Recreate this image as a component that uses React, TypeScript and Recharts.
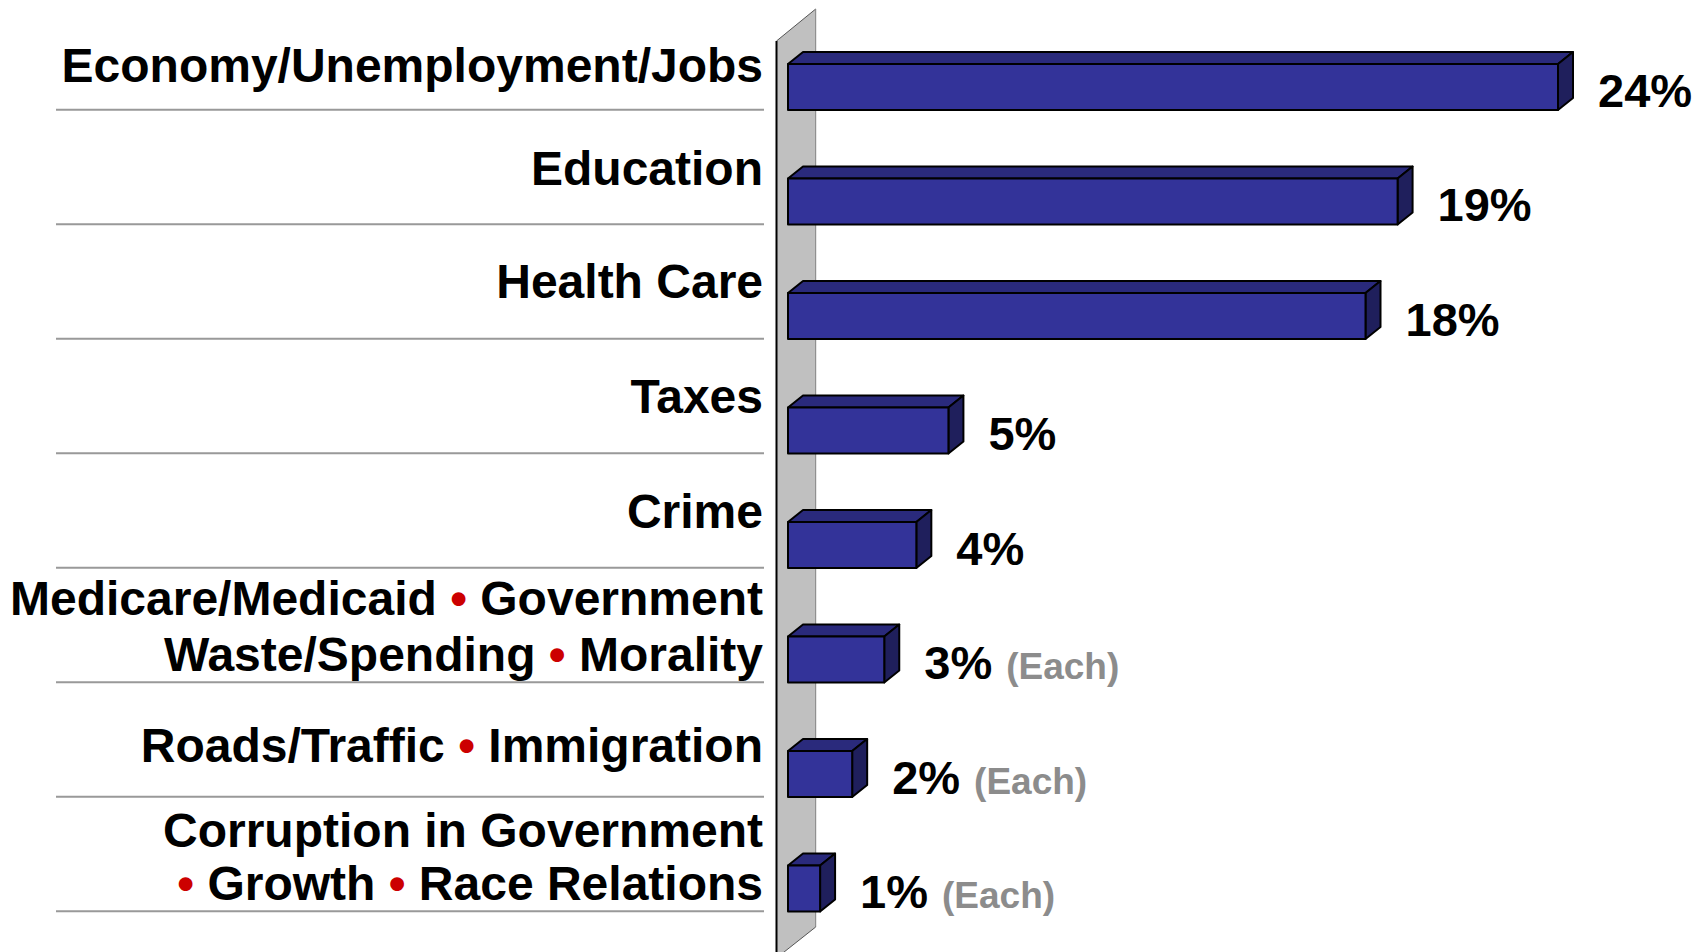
import React from "react";
import { BarChart, Bar, XAxis, YAxis, LabelList, Customized } from "recharts";

const categories = [
  "Economy/Unemployment/Jobs",
  "Education",
  "Health Care",
  "Taxes",
  "Crime",
  "Medicare/Medicaid • Government Waste/Spending • Morality",
  "Roads/Traffic • Immigration",
  "Corruption in Government • Growth • Race Relations",
];

const labelLines: string[][] = [
  ["Economy/Unemployment/Jobs"],
  ["Education"],
  ["Health Care"],
  ["Taxes"],
  ["Crime"],
  ["Medicare/Medicaid • Government", "Waste/Spending • Morality"],
  ["Roads/Traffic • Immigration"],
  ["Corruption in Government", "• Growth • Race Relations"],
];

const values = [24, 19, 18, 5, 4, 3, 2, 1];
const eachFlags = [false, false, false, false, false, true, true, true];

const data = categories.map((name, i) => ({ name, value: values[i], each: eachFlags[i] }));

// layout: baseline offsets of each label line relative to its band centre
const LABEL_BASELINES: number[][] = [[-5], [-17], [-18], [-18], [-17], [-45, 11], [-12], [-42, 11]];

const W = 1704;
const H = 952;
const MARGIN = { top: 30, right: 146, bottom: 6, left: 0 };
const YAXIS_W = 788;
const FONT = "'Liberation Sans', Arial, Helvetica, sans-serif";
const DX = 15;
const DY = 12;

const renderLine = (line: string, key: number, x: number, y: number) => {
  const parts = line.split("•");
  const children: React.ReactNode[] = [];
  parts.forEach((p, i) => {
    if (i > 0) {
      children.push(
        <tspan key={`b${i}`} fill="#cc0000">•</tspan>
      );
    }
    if (p.length) children.push(<tspan key={`t${i}`} fill="#000">{p}</tspan>);
  });
  return (
    <text
      key={key}
      x={x}
      y={y}
      textAnchor="end"
      fontFamily={FONT}
      fontWeight="bold"
      fontSize={48}
      style={{ whiteSpace: "pre" }}
    >
      {children}
    </text>
  );
};

const CategoryTick = (props: any) => {
  const { x, y, index } = props;
  const lines = labelLines[index] || [String(props.payload?.value ?? "")];
  const offs = LABEL_BASELINES[index] || [-17];
  return (
    <g>
      {lines.map((l, i) => renderLine(l, i, x, y + (offs[i] ?? 0)))}
      <line x1={x - 707} x2={x + 1} y1={y + 22.5} y2={y + 22.5} stroke="#999999" strokeWidth={2} />
    </g>
  );
};

const Bar3D = (props: any) => {
  const { x, y, width, height } = props;
  if (width == null || height == null) return null;
  const x2 = x + width;
  const y2 = y + height;
  return (
    <g stroke="#000" strokeWidth={2} strokeLinejoin="round">
      <polygon points={`${x},${y} ${x + DX},${y - DY} ${x2 + DX},${y - DY} ${x2},${y}`} fill="#2a2a7c" />
      <polygon points={`${x2},${y} ${x2 + DX},${y - DY} ${x2 + DX},${y2 - DY} ${x2},${y2}`} fill="#1f1f5c" />
      <rect x={x} y={y} width={width} height={height} fill="#333399" />
    </g>
  );
};

const ValueLabel = (props: any) => {
  const { x, y, width, height, value, index } = props;
  const each = eachFlags[index];
  return (
    <text
      x={x + width + 40}
      y={y + height / 2 + 19.5}
      fontFamily={FONT}
      fontWeight="bold"
      fontSize={47}
      fill="#000"
    >
      <tspan>{`${value}%`}</tspan>
      {each ? (
        <tspan dx={14} fontSize={37} fill="#8c8c8c">(Each)</tspan>
      ) : null}
    </text>
  );
};

const Wall = () => {
  const L = 776.5;
  const R = 815.7;
  return (
    <g>
      <polygon points={`${L},41 ${R},9 ${R},927 ${L},958`} fill="#c0c0c0" stroke="none" />
      <line x1={L} y1={41} x2={R} y2={9} stroke="#555" strokeWidth={1} />
      <line x1={R} y1={9} x2={R} y2={927} stroke="#808080" strokeWidth={1} />
      <line x1={R} y1={927} x2={L} y2={958} stroke="#555" strokeWidth={1} />
      <line x1={L} y1={41} x2={L} y2={958} stroke="#000" strokeWidth={2} />
    </g>
  );
};

export default function App() {
  return (
    <div style={{ position: "absolute", left: 0, top: 0, width: W, height: H, background: "#fff" }}>
      <BarChart width={W} height={H} data={data} layout="vertical" margin={MARGIN} barSize={46}>
        <Customized component={<Wall />} />
        <XAxis type="number" domain={[0, 24]} hide />
        <YAxis
          type="category"
          dataKey="name"
          width={YAXIS_W}
          axisLine={false}
          tickLine={false}
          tickSize={0}
          tickMargin={25}
          interval={0}
          tick={<CategoryTick />}
        />
        <Bar dataKey="value" shape={<Bar3D />} isAnimationActive={false}>
          <LabelList dataKey="value" content={<ValueLabel />} />
        </Bar>
      </BarChart>
    </div>
  );
}
